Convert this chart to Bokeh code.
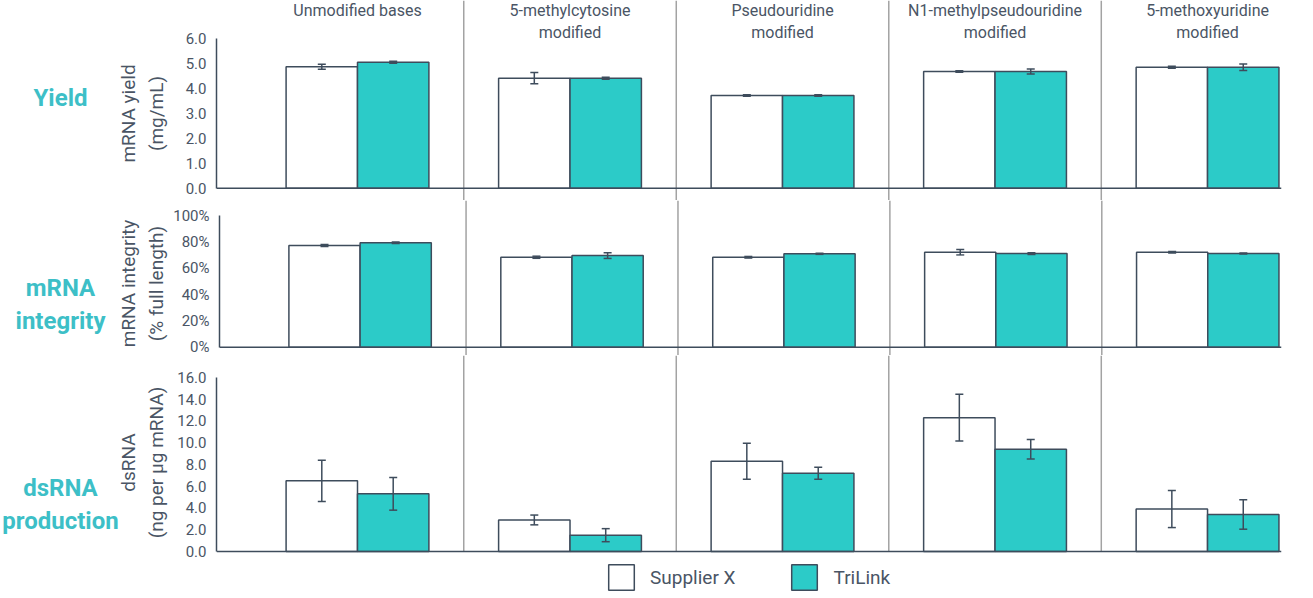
import math
from bokeh.plotting import figure
from bokeh.layouts import column, row
from bokeh.models import (Range1d, FixedTicker, Whisker, ColumnDataSource, Span,
                          Legend, LegendItem, NumeralTickFormatter, PrintfTickFormatter)
from bokeh.core.properties import value
from bokeh.embed import file_html
from bokeh.resources import INLINE

# ---------------- data ----------------
categories = ["Unmodified bases", "5-methylcytosine\nmodified", "Pseudouridine\nmodified",
              "N1-methylpseudouridine\nmodified", "5-methoxyuridine\nmodified"]
series = ["Supplier X", "TriLink"]
row_titles = ["Yield", "mRNA\nintegrity", "dsRNA\nproduction"]
axis_titles = ["mRNA yield\n(mg/mL)", "mRNA integrity\n(% full length)", "dsRNA\n(ng per µg mRNA)"]

yield_supplier = [4.88, 4.42, 3.72, 4.69, 4.86]
yield_supplier_err = [0.10, 0.23, 0.03, 0.03, 0.04]
yield_trilink = [5.06, 4.42, 3.72, 4.69, 4.86]
yield_trilink_err = [0.04, 0.04, 0.03, 0.10, 0.13]

integrity_supplier = [77.2, 68.3, 68.3, 72.1, 72.1]
integrity_supplier_err = [0.8, 0.8, 0.6, 2.0, 0.6]
integrity_trilink = [79.3, 69.6, 70.9, 71.1, 71.1]
integrity_trilink_err = [0.5, 2.2, 0.4, 0.7, 0.4]

dsrna_supplier = [6.5, 2.9, 8.3, 12.3, 3.9]
dsrna_supplier_err = [1.9, 0.45, 1.65, 2.15, 1.7]
dsrna_trilink = [5.3, 1.5, 7.2, 9.4, 3.4]
dsrna_trilink_err = [1.5, 0.6, 0.55, 0.9, 1.35]

yield_ticks = [0, 1, 2, 3, 4, 5, 6]
integrity_ticks = [0, 20, 40, 60, 80, 100]
dsrna_ticks = [0, 2, 4, 6, 8, 10, 12, 14, 16]

# ---------------- style ----------------
FONT = "Roboto"
TEXT = "#4a5565"
DARK = "#3e4c5c"
TEAL = "#2ccbc8"
TITLE_TEAL = "#3dbfc7"
SEP = "#a3a3a3"

SIDE_W = 170
LEFT = 46
RIGHT = 16
FRAME_W = 1065
W = LEFT + FRAME_W + RIGHT
BW = 0.336
X0, X1 = -0.6635, 4.348
xs = list(range(len(categories)))
seps = [i + 0.5 for i in xs[:-1]]


def make_side(height, row_title, row_title_y, axis_title, axis_title_y):
    s = figure(width=SIDE_W, height=height, x_range=Range1d(0, SIDE_W),
               y_range=Range1d(0, height), output_backend="svg", toolbar_location=None,
               x_axis_location=None, y_axis_location=None, min_border=0)
    s.outline_line_color = None
    s.xgrid.visible = False
    s.ygrid.visible = False
    s.text(x=[60], y=[height - row_title_y], text=[row_title], text_align="center",
           text_baseline="middle", text_font=value(FONT), text_font_size="24px",
           text_font_style="bold", text_color=TITLE_TEAL, text_line_height=1.17)
    s.text(x=[142], y=[height - axis_title_y], text=[axis_title], angle=math.pi / 2,
           text_align="center", text_baseline="middle", text_font=value(FONT),
           text_font_size="19px", text_color=TEXT, text_line_height=1.22)
    return s


def make_panel(height, yr, ticks, fmt, sup, sup_err, tri, tri_err,
               top_titles=False, full_sep=True, legend=False):
    p = figure(width=W, height=height, x_range=Range1d(X0, X1), y_range=Range1d(*yr),
               output_backend="svg", toolbar_location=None, x_axis_location=None,
               min_border=0, min_border_left=LEFT, min_border_right=RIGHT)
    p.outline_line_color = None
    p.xgrid.visible = False
    p.ygrid.visible = False
    p.background_fill_color = "white"
    p.border_fill_color = "white"

    ax = p.yaxis[0]
    ax.ticker = FixedTicker(ticks=ticks)
    ax.formatter = fmt
    ax.bounds = (ticks[0], ticks[-1])
    ax.axis_line_color = DARK
    ax.axis_line_width = 1.5
    ax.major_tick_line_color = None
    ax.minor_tick_line_color = None
    ax.major_tick_out = 0
    ax.major_tick_in = 0
    ax.major_label_standoff = 10
    ax.major_label_text_font = FONT
    ax.major_label_text_font_size = "15px"
    ax.major_label_text_color = TEXT

    if full_sep:
        for s in seps:
            p.add_layout(Span(location=s, dimension="height", line_color=SEP, line_width=1.5))
    else:
        p.segment(x0=seps, y0=0, x1=seps, y1=yr[1], line_color=SEP, line_width=1.5)

    src_s = ColumnDataSource(dict(x=[i - BW / 2 for i in xs], top=sup,
                                  upper=[v + e for v, e in zip(sup, sup_err)],
                                  lower=[v - e for v, e in zip(sup, sup_err)]))
    src_t = ColumnDataSource(dict(x=[i + BW / 2 for i in xs], top=tri,
                                  upper=[v + e for v, e in zip(tri, tri_err)],
                                  lower=[v - e for v, e in zip(tri, tri_err)]))
    r_s = p.vbar(x="x", top="top", bottom=0, width=BW, source=src_s,
                 fill_color="white", line_color=DARK, line_width=1.5)
    r_t = p.vbar(x="x", top="top", bottom=0, width=BW, source=src_t,
                 fill_color=TEAL, line_color=DARK, line_width=1.5)

    p.add_layout(Span(location=0, dimension="width", line_color=DARK, line_width=1.5))

    for src in (src_s, src_t):
        w = Whisker(source=src, base="x", upper="upper", lower="lower",
                    line_color=DARK, line_width=1.5, level="overlay")
        for head in (w.upper_head, w.lower_head):
            head.size = 8
            head.line_color = DARK
            head.line_width = 1.5
        p.add_layout(w)

    if top_titles:
        p.text(x=xs, y=yr[1], text=categories, text_align="center", text_baseline="top",
               text_font=value(FONT), text_font_size="16px", text_color=TEXT,
               text_line_height=1.2)

    if legend:
        lg = Legend(items=[LegendItem(label=series[0], renderers=[r_s]),
                           LegendItem(label=series[1], renderers=[r_t])],
                    location=(389, 2), orientation="horizontal",
                    glyph_width=32, glyph_height=32, label_text_font=FONT,
                    label_text_font_size="19px", label_text_color=TEXT,
                    label_standoff=13, spacing=53, padding=0, margin=0,
                    border_line_color=None, background_fill_alpha=0)
        p.add_layout(lg)
    return p


# panels occupy screen y 0-200, 200-355, 355-595
H1, H2, H3 = 200, 155, 240
p1 = make_panel(H1, (-0.494, 7.538), yield_ticks, NumeralTickFormatter(format="0.0"),
                yield_supplier, yield_supplier_err, yield_trilink, yield_trilink_err,
                top_titles=True)
p2 = make_panel(H2, (-6.30, 111.39), integrity_ticks, PrintfTickFormatter(format="%d%%"),
                integrity_supplier, integrity_supplier_err, integrity_trilink, integrity_trilink_err)
p3 = make_panel(H3, (-4.046, 18.02), dsrna_ticks, NumeralTickFormatter(format="0.0"),
                dsrna_supplier, dsrna_supplier_err, dsrna_trilink, dsrna_trilink_err,
                full_sep=False, legend=True)

s1 = make_side(H1, row_titles[0], 97, axis_titles[0], 113)
s2 = make_side(H2, row_titles[1], 104, axis_titles[1], 83)
s3 = make_side(H3, row_titles[2], 149, axis_titles[2], 107)

layout = column(row(s1, p1, spacing=0), row(s2, p2, spacing=0), row(s3, p3, spacing=0),
                spacing=0)
open("out.html", "w").write(file_html(layout, INLINE))
